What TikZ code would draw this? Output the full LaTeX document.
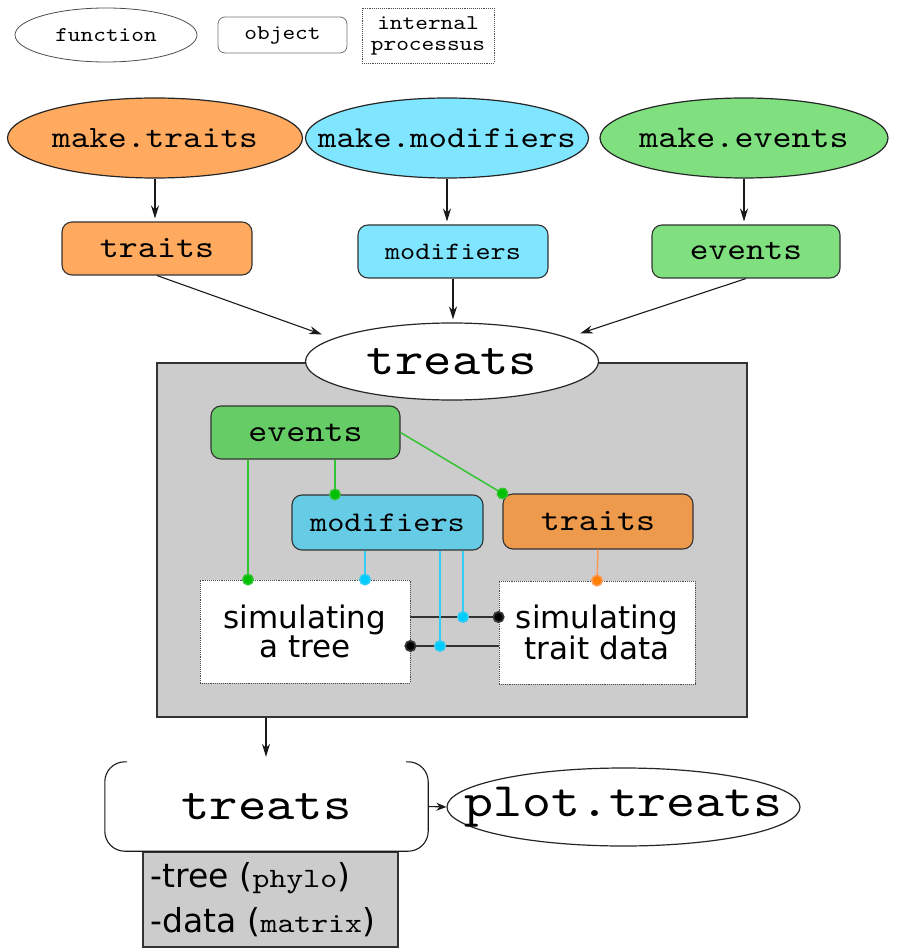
\documentclass[tikz,border=0pt]{standalone}
\usepackage{fontspec}
\setmainfont{DejaVu Sans}
\setmonofont{lmmono10-regular.otf}[FakeStretch=1.15]
\usetikzlibrary{shapes.geometric,arrows.meta,calc}
\newcommand\tsz[1]{\ttfamily\fontsize{#1}{#1}\selectfont}
\newcommand\ssz[2]{\rmfamily\fontsize{#1}{#2}\selectfont}
\newcommand\zb[1]{\makebox[0pt]{#1}}
\definecolor{orA}{HTML}{FFAA5F}
\definecolor{cyA}{HTML}{80E5FF}
\definecolor{grA}{HTML}{80E080}
\definecolor{orB}{HTML}{EE9A4D}
\definecolor{cyB}{HTML}{66CCE6}
\definecolor{grB}{HTML}{66CC66}
\definecolor{grayBox}{HTML}{CCCCCC}
\definecolor{lnG}{HTML}{33C433}
\definecolor{dtG}{HTML}{00C000}
\definecolor{lnC}{HTML}{33CCF5}
\definecolor{dtC}{HTML}{00CCFF}
\definecolor{lnO}{HTML}{FF9955}
\definecolor{dtO}{HTML}{FF7F00}
\tikzset{
  fn/.style={ellipse, draw=black!85, line width=1.2pt, inner sep=0pt},
  obj/.style={rectangle, rounded corners=10pt, draw=black!80, line width=1.1pt, inner sep=0pt},
  proc/.style={rectangle, draw=black!70, densely dotted, line width=0.9pt, fill=white, inner sep=0pt, align=center},
  arr/.style={-{Stealth[length=13pt,width=8pt]}, line width=1.1pt, draw=black!90},
  dotline/.style={line width=1.5pt, -{Circle[length=12pt]}, shorten >=-6pt},
}
\begin{document}
\begin{tikzpicture}[x=1pt,y=-1pt]
\useasboundingbox (0,0) rectangle (896,949);

% legend
\node[fn, line width=0.8pt, draw=black!70, minimum width=182pt, minimum height=54pt, font=\tsz{21}] (lf) at (106,35) {\zb{function}};
\node[obj, line width=0.8pt, draw=black!55, rounded corners=7pt, minimum width=129pt, minimum height=36pt, font=\tsz{21}] (lo) at (282.5,35) {object};
\node[proc, minimum width=132pt, minimum height=55pt, font=\tsz{21}] (lp) at (428,35.5) {internal\\processus};

% functions
\node[fn, fill=orA, minimum width=295pt, minimum height=80pt, font=\tsz{31}] (mt) at (155,138) {\zb{make.traits}};
\node[fn, fill=cyA, minimum width=283pt, minimum height=80pt, font=\tsz{30.5}] (mm) at (447,138) {\zb{make.modifiers}};
\node[fn, fill=grA, minimum width=288pt, minimum height=80pt, font=\tsz{31.5}] (me) at (744,138) {\zb{make.events}};

% objects
\node[obj, fill=orA, minimum width=190pt, minimum height=53pt, font=\tsz{31.5}] (ot) at (157,248.5) {traits};
\node[obj, fill=cyA, minimum width=190pt, minimum height=53pt, font=\tsz{25}] (om) at (453,251.5) {modifiers};
\node[obj, fill=grA, minimum width=188pt, minimum height=53pt, font=\tsz{31}] (oe) at (746,251.5) {events};

\draw[arr, shorten >=3pt] (mt.south) -- (mt.south |- ot.north);
\draw[arr, shorten >=3pt] (mm.south) -- (mm.south |- om.north);
\draw[arr, shorten >=3pt] (me.south) -- (me.south |- oe.north);

% gray box
\node[rectangle, fill=grayBox, draw=black!80, line width=1.8pt, minimum width=590pt, minimum height=354pt, inner sep=0pt] (gb) at (452,540) {};

% treats function
\node[fn, fill=white, minimum width=293pt, minimum height=77pt, font=\tsz{47}] (tr) at (452,361.5) {\zb{treats}};

\coordinate (tinL) at ($(tr.center)+(-130,-27)$);
\coordinate (tinR) at ($(tr.center)+(128,-28)$);
\draw[arr] (ot.south) -- (tinL);
\draw[arr, shorten >=3pt] (om.south) -- (om.south |- tr.north);
\draw[arr] (oe.south) -- (tinR);

% inner objects
\node[obj, fill=grB, minimum width=189pt, minimum height=53pt, font=\tsz{31.5}] (ie) at (305.5,432.5) {events};
\node[obj, fill=cyB, minimum width=191pt, minimum height=55pt, font=\tsz{28.5}] (im) at (387.5,522.5) {modifiers};
\node[obj, fill=orB, minimum width=190pt, minimum height=55pt, font=\tsz{31.5}] (it) at (598,521.5) {traits};

% processes
\node[proc, minimum width=210pt, minimum height=103pt, font=\ssz{31}{29}] (st) at (305,631.5) {simulating\\a tree};
\node[proc, minimum width=196pt, minimum height=103pt, font=\ssz{31}{29}] (sd) at (597,632.5) {simulating\\trait data};

% helper coordinates
\coordinate (x248) at (248,0);
\coordinate (x335) at (335,0);
\coordinate (x365) at (365,0);
\coordinate (x440) at (440,0);
\coordinate (x463) at (463,0);
\coordinate (y617) at (0,617);
\coordinate (y646) at (0,646);
\coordinate (c440) at (440,646);
\coordinate (c463) at (463,617);

% black links between processes
\draw[dotline, draw=black!80, line width=1.8pt, -{Circle[length=12pt,fill=black]}] (st.east |- y617) -- (sd.west |- y617);
\draw[dotline, draw=black!80, line width=1.8pt, -{Circle[length=12pt,fill=black]}] (sd.west |- y646) -- (st.east |- y646);

% green links
\draw[dotline, draw=lnG, -{Circle[length=12pt,fill=dtG]}] (ie.south -| x248) -- (st.north -| x248);
\draw[dotline, draw=lnG, -{Circle[length=12pt,fill=dtG]}] (ie.south -| x335) -- (im.north -| x335);
\draw[dotline, draw=lnG, -{Circle[length=12pt,fill=dtG]}] (ie.east) -- (it.north west);

% cyan links
\draw[dotline, draw=lnC, -{Circle[length=12pt,fill=dtC]}] (im.south -| x365) -- (st.north -| x365);
\draw[dotline, draw=lnC, -{Circle[length=12pt,fill=dtC]}] (im.south -| x440) -- (c440);
\draw[dotline, draw=lnC, -{Circle[length=12pt,fill=dtC]}] (im.south -| x463) -- (c463);

% orange link
\draw[dotline, draw=lnO, -{Circle[length=12pt,fill=dtO]}] (it.south) -- (sd.north);

% result
\coordinate (x266) at (266,0);
\node[rectangle, fill=grayBox, draw=black!80, line width=1.5pt, minimum width=255pt, minimum height=95pt, inner sep=0pt, text width=240pt, align=left, font=\ssz{33}{45}] (ib) at (270.5,899.5) {-tree ({\tsz{28}phylo})\\-data ({\tsz{28}matrix})};
\node[rectangle, fill=white, minimum width=323pt, minimum height=89pt, inner sep=0pt, font=\tsz{47}] (tb) at (266.5,806.5) {treats};
\draw[line width=1.1pt, draw=black!90, rounded corners=20pt] ($(tb.north west)+(22pt,0pt)$) -- (tb.north west) -- (tb.south west) -- (tb.south east) -- (tb.north east) -- ($(tb.north east)+(-22pt,0pt)$);
\draw[arr, shorten >=5pt] (gb.south -| x266) -- (tb.north -| x266);

\node[fn, fill=white, minimum width=353pt, minimum height=78pt, font=\tsz{48}] (pt) at (623.5,807) {\zb{plot.treats}};
\draw[arr, -{Stealth[length=10pt,width=8pt]}] (tb.east) -- (pt.west);
\end{tikzpicture}
\end{document}
